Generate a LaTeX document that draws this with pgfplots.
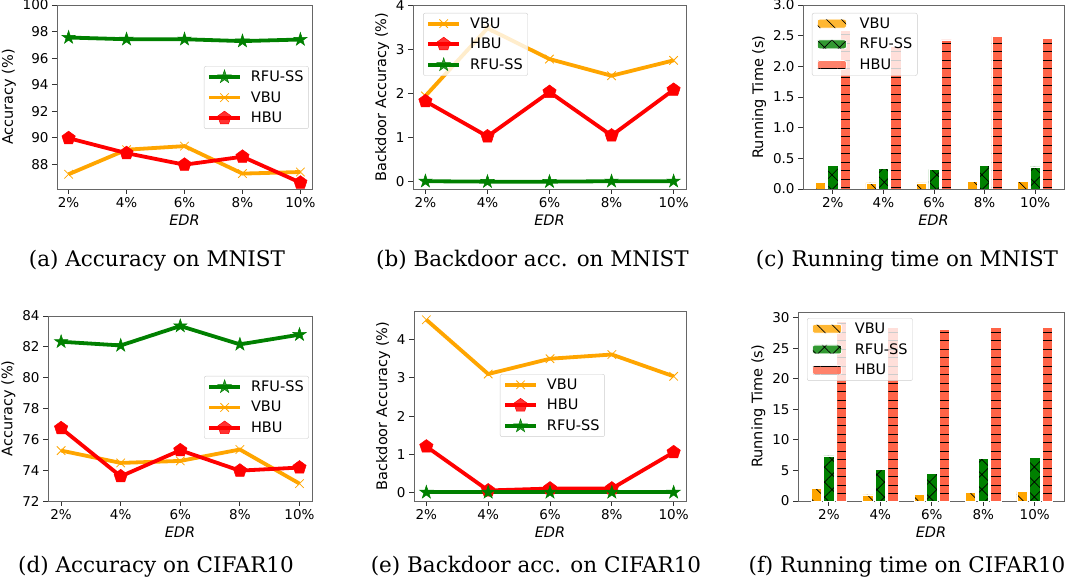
\documentclass[border=0pt]{standalone}
\usepackage{pgfplots}
\pgfplotsset{compat=1.18}
\usepackage{fontspec}
\usetikzlibrary{patterns.meta}
\newfontfamily\dv{DejaVu Sans}
\newfontfamily\dvs{DejaVu Serif}
\definecolor{cgreen}{RGB}{0,128,0}
\definecolor{corange}{RGB}{255,165,0}
\definecolor{cred}{RGB}{255,0,0}
\definecolor{ctomato}{RGB}{255,99,71}
\pgfdeclareplotmark{fstar}{%
  \pgfpathmoveto{\pgfpointpolar{90}{\pgfplotmarksize}}%
  \pgfpathlineto{\pgfpointpolar{126}{0.382\pgfplotmarksize}}%
  \pgfpathlineto{\pgfpointpolar{162}{\pgfplotmarksize}}%
  \pgfpathlineto{\pgfpointpolar{198}{0.382\pgfplotmarksize}}%
  \pgfpathlineto{\pgfpointpolar{234}{\pgfplotmarksize}}%
  \pgfpathlineto{\pgfpointpolar{270}{0.382\pgfplotmarksize}}%
  \pgfpathlineto{\pgfpointpolar{306}{\pgfplotmarksize}}%
  \pgfpathlineto{\pgfpointpolar{342}{0.382\pgfplotmarksize}}%
  \pgfpathlineto{\pgfpointpolar{18}{\pgfplotmarksize}}%
  \pgfpathlineto{\pgfpointpolar{54}{0.382\pgfplotmarksize}}%
  \pgfpathclose
  \pgfusepathqfillstroke
}
\pgfplotsset{
  base/.style={scale only axis, anchor=south west,
    /pgf/number format/assume math mode=true,
    tick label style={font=\dv\fontsize{13.5}{16}\selectfont, black},
    label style={font=\dv\fontsize{14.5}{17}\selectfont},
    axis line style={draw=black!60, line width=0.8pt},
    tick style={black!80, line width=0.8pt},
    tick align=outside, major tick length=5pt,
    xtick pos=left, ytick pos=left,
    xtick={0,1,2,3,4}, xticklabels={2\%,4\%,6\%,8\%,10\%},
    xlabel={\itshape EDR},
    legend cell align=left,
    legend style={font=\dv\fontsize{14.5}{17}\selectfont, draw=black!20, fill=white,
      fill opacity=0.8, text opacity=1, rounded corners=2pt, anchor=north west,
      inner xsep=3pt, inner ysep=2.5pt, row sep=4.5pt,
      /tikz/every odd column/.append style={column sep=7pt}},
  },
  lineleg/.style={legend image code/.code={\draw[mark repeat=2,mark phase=2,##1] plot coordinates {(0pt,0pt) (15.5pt,0pt) (31pt,0pt)};}},
  rfu/.style={lineleg, color=cgreen, line width=3.8pt, mark=fstar, mark size=7pt, mark options={solid, line width=0.5pt}},
  vbu/.style={lineleg, color=corange, line width=3.8pt, mark=x, mark size=6pt, mark options={solid, line width=0.8pt}},
  hbu/.style={lineleg, color=cred, line width=3.8pt, mark=pentagon*, mark size=7pt, mark options={solid, line width=0.5pt}},
  barbase/.style={ybar, bar width=0.2, draw=white, line width=0.6pt,
    legend image code/.code={\draw[##1] (2pt,-4.5pt) rectangle (31pt,4.5pt); \path (0pt,0pt) (35pt,0pt);}},
  vbar/.style={barbase, fill=corange, bar shift=-0.245,
    postaction={pattern={Lines[angle=-45,distance=10.6pt,line width=0.7pt]}, pattern color=black}},
  rbar/.style={barbase, fill=cgreen, bar shift=0,
    postaction={pattern={Hatch[angle=45,distance=10.6pt,line width=0.7pt]}, pattern color=black}},
  hbar/.style={barbase, fill=ctomato, bar shift=0.245,
    postaction={pattern={Lines[angle=0,distance=8.5pt,line width=0.8pt]}, pattern color=black}},
}
\begin{document}
\begin{tikzpicture}
\useasboundingbox (0pt,0pt) rectangle (1086pt,587pt);
% (a)
\begin{axis}[base, at={(57pt,398pt)}, width=255pt, height=184pt,
  xmin=-0.2, xmax=4.2, ymin=86.14, ymax=100, ytick={88,90,...,100},
  ylabel={Accuracy (\%)},
  legend style={at={(0.576,0.668)}}]
\addplot[rfu] coordinates {(0,97.55) (1,97.42) (2,97.42) (3,97.28) (4,97.40)};
\addlegendentry{RFU-SS}
\addplot[vbu] coordinates {(0,87.25) (1,89.1) (2,89.37) (3,87.3) (4,87.42)};
\addlegendentry{VBU}
\addplot[hbu] coordinates {(0,89.97) (1,88.84) (2,87.97) (3,88.57) (4,86.62)};
\addlegendentry{HBU}
\end{axis}
% (b)
\begin{axis}[base, at={(413pt,398pt)}, width=273pt, height=184pt,
  xmin=-0.2, xmax=4.2, ymin=-0.167, ymax=4.02, ytick={0,1,2,3,4},
  ylabel={Backdoor Accuracy (\%)},
  legend style={at={(0.037,0.957)}}]
\addplot[vbu] coordinates {(0,1.95) (1,3.49) (2,2.79) (3,2.41) (4,2.76)};
\addlegendentry{VBU}
\addplot[hbu] coordinates {(0,1.83) (1,1.03) (2,2.04) (3,1.05) (4,2.09)};
\addlegendentry{HBU}
\addplot[rfu] coordinates {(0,0.01) (1,0.0) (2,0.0) (3,0.01) (4,0.01)};
\addlegendentry{RFU-SS}
\end{axis}
% (c)
\begin{axis}[base, at={(803pt,398pt)}, width=261pt, height=184pt,
  xmin=-0.59, xmax=4.57, ymin=0, ymax=3.0, ytick={0,0.5,...,3.0},
  yticklabel style={/pgf/number format/fixed, /pgf/number format/fixed zerofill, /pgf/number format/precision=1},
  ylabel={Running Time (s)},
  legend style={at={(0.034,0.957)}}]
\addplot[vbar] coordinates {(0,0.11) (1,0.10) (2,0.10) (3,0.12) (4,0.12)};
\addlegendentry{VBU}
\addplot[rbar] coordinates {(0,0.38) (1,0.33) (2,0.32) (3,0.39) (4,0.36)};
\addlegendentry{RFU-SS}
\addplot[hbar] coordinates {(0,2.58) (1,2.33) (2,2.43) (3,2.49) (4,2.46)};
\addlegendentry{HBU}
\end{axis}
% (d)
\begin{axis}[base, at={(48pt,86pt)}, width=264pt, height=185pt,
  xmin=-0.22, xmax=4.21, ymin=72, ymax=84, ytick={72,74,...,84},
  ylabel={Accuracy (\%)},
  legend style={at={(0.591,0.676)}}]
\addplot[rfu] coordinates {(0,82.33) (1,82.09) (2,83.35) (3,82.16) (4,82.79)};
\addlegendentry{RFU-SS}
\addplot[vbu] coordinates {(0,75.27) (1,74.47) (2,74.6) (3,75.34) (4,73.13)};
\addlegendentry{VBU}
\addplot[hbu] coordinates {(0,76.72) (1,73.6) (2,75.29) (3,73.97) (4,74.17)};
\addlegendentry{HBU}
\end{axis}
% (e)
\begin{axis}[base, at={(414pt,86pt)}, width=272pt, height=190pt,
  xmin=-0.2, xmax=4.2, ymin=-0.226, ymax=4.75, ytick={0,1,2,3,4},
  ylabel={Backdoor Accuracy (\%)},
  legend style={at={(0.316,0.668)}}]
\addplot[vbu] coordinates {(0,4.52) (1,3.1) (2,3.5) (3,3.61) (4,3.04)};
\addlegendentry{VBU}
\addplot[hbu] coordinates {(0,1.2) (1,0.05) (2,0.1) (3,0.1) (4,1.05)};
\addlegendentry{HBU}
\addplot[rfu] coordinates {(0,0.0) (1,0.0) (2,0.0) (3,0.0) (4,0.0)};
\addlegendentry{RFU-SS}
\end{axis}
% (f)
\begin{axis}[base, at={(798pt,86pt)}, width=266pt, height=189pt,
  xmin=-0.6, xmax=4.57, ymin=0, ymax=30.93, ytick={0,5,...,30},
  ylabel={Running Time (s)},
  legend style={at={(0.034,0.968)}}]
\addplot[vbar] coordinates {(0,2.0) (1,1.0) (2,1.1) (3,1.47) (4,1.63)};
\addlegendentry{VBU}
\addplot[rbar] coordinates {(0,7.39) (1,5.2) (2,4.56) (3,7.0) (4,7.17)};
\addlegendentry{RFU-SS}
\addplot[hbar] coordinates {(0,29.46) (1,28.37) (2,28.04) (3,28.4) (4,28.4)};
\addlegendentry{HBU}
\end{axis}
% captions
\begin{scope}[every node/.style={font=\dvs\fontsize{21.5}{25}\selectfont, anchor=base, inner sep=0pt}]
\node at (157pt,320pt) {(a) Accuracy on MNIST};
\node at (532.5pt,320pt) {(b) Backdoor acc. on MNIST};
\node at (907pt,320pt) {(c) Running time on MNIST};
\node at (156pt,15pt) {(d) Accuracy on CIFAR10};
\node at (536pt,15pt) {(e) Backdoor acc. on CIFAR10};
\node at (907pt,15pt) {(f) Running time on CIFAR10};
\end{scope}
\end{tikzpicture}
\end{document}
